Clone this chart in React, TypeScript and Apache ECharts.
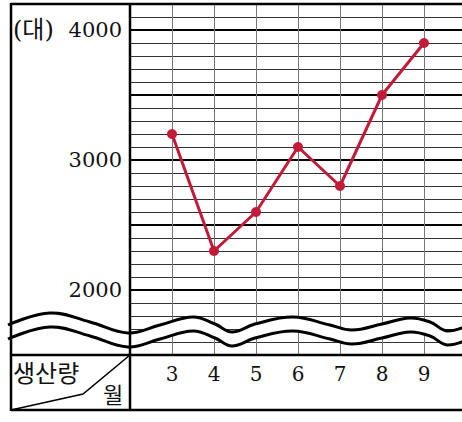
import React, { useEffect, useRef } from "react";
import * as echarts from "echarts";

const months = [3, 4, 5, 6, 7, 8, 9];
const production = [3200, 2300, 2600, 3100, 2800, 3500, 3900];
const yLabels = [2000, 3000, 4000];
const unitLabel = "(대)";
const rowLabel = "생산량";
const colLabel = "월";

const SERIF = "'DejaVu Serif', 'Noto Sans CJK KR', serif";

const waveUpper: number[][] = [
  [8, 325], [50, 313], [90, 322], [128, 333], [160, 325], [193, 317], [215, 324],
  [232, 332], [255, 324], [293, 317], [330, 325], [352, 330], [382, 324], [410, 318],
  [430, 322], [448, 331], [475, 322],
];
const waveGap = 14;

export default function App() {
  const ref = useRef<HTMLDivElement>(null);
  useEffect(() => {
    if (!ref.current) return;
    const chart = echarts.init(ref.current, undefined, { renderer: "svg" });
    const lower = waveUpper.map(([x, y]) => [x, y + waveGap]);
    const poly = [...waveUpper, ...lower.slice().reverse()];
    const lineStyle = { stroke: "#000", lineWidth: 2.5 };
    chart.setOption({
      animation: false,
      backgroundColor: "#fff",
      grid: { left: 130, top: 4, width: 336, height: 351, outerBoundsMode: "none", containLabel: false },
      xAxis: {
        type: "value",
        min: 2,
        max: 10,
        interval: 1,
        axisLine: { show: false },
        axisTick: { show: false },
        splitLine: { show: true, lineStyle: { color: "#777", width: 1 } },
        axisLabel: {
          margin: 9,
          fontFamily: SERIF,
          fontSize: 20,
          color: "#111",
          formatter: (v: number) => (months.includes(v) ? String(v) : ""),
        },
      },
      yAxis: [
        {
          type: "value",
          min: 1500,
          max: 4200,
          interval: 100,
          axisLine: { show: false },
          axisTick: { show: false },
          axisLabel: { show: false },
          splitLine: { show: true, lineStyle: { color: "#333", width: 1 } },
        },
        {
          type: "value",
          position: "left",
          min: 1500,
          max: 4200,
          interval: 500,
          axisLine: { show: false },
          axisTick: { show: false },
          axisLabel: {
            margin: 8,
            fontFamily: SERIF,
            fontSize: 21,
            color: "#111",
            formatter: (v: number) => (yLabels.includes(v) ? String(v) : ""),
          },
          splitLine: { show: true, lineStyle: { color: "#000", width: 2 } },
        },
      ],
      series: [
        {
          type: "line",
          yAxisIndex: 1,
          data: months.map((m, i) => [m, production[i]]),
          symbol: "circle",
          symbolSize: 10,
          itemStyle: { color: "#c21a38" },
          lineStyle: { color: "#c21a38", width: 3 },
          z: 5,
        },
      ],
      graphic: [
        { type: "polygon", z: 100, shape: { points: poly, smooth: 0.4 }, style: { fill: "#fff" } },
        { type: "polyline", z: 101, shape: { points: waveUpper, smooth: 0.4 }, style: { stroke: "#000", lineWidth: 3, fill: null } },
        { type: "polyline", z: 101, shape: { points: lower, smooth: 0.4 }, style: { stroke: "#000", lineWidth: 3, fill: null } },
        { type: "line", z: 110, shape: { x1: 11, y1: 4, x2: 470, y2: 4 }, style: lineStyle },
        { type: "line", z: 110, shape: { x1: 11, y1: 3, x2: 11, y2: 411 }, style: lineStyle },
        { type: "line", z: 110, shape: { x1: 11, y1: 410, x2: 470, y2: 410 }, style: lineStyle },
        { type: "line", z: 110, shape: { x1: 130, y1: 3, x2: 130, y2: 411 }, style: lineStyle },
        { type: "line", z: 110, shape: { x1: 11, y1: 355, x2: 470, y2: 355 }, style: lineStyle },
        {
          type: "polyline",
          z: 110,
          shape: { points: [[130, 355], [83, 394], [11, 410]] },
          style: { stroke: "#000", lineWidth: 1.5, fill: null },
        },
        {
          type: "text",
          z: 110,
          x: 13,
          y: 30,
          style: { text: unitLabel, fontFamily: SERIF, fontSize: 24, fill: "#111", verticalAlign: "middle", align: "left" },
        },
        {
          type: "text",
          z: 110,
          x: 13,
          y: 371,
          style: { text: rowLabel, fontFamily: "'Noto Sans CJK KR', sans-serif", fontSize: 24, fill: "#111", verticalAlign: "middle", align: "left" },
        },
        {
          type: "text",
          z: 110,
          x: 113,
          y: 393,
          style: { text: colLabel, fontFamily: "'Noto Sans CJK KR', sans-serif", fontSize: 22, fill: "#111", verticalAlign: "middle", align: "center" },
        },
      ],
    });
    return () => chart.dispose();
  }, []);
  return <div ref={ref} style={{ position: "fixed", left: 0, top: 0, width: 462, height: 422 }} />;
}
